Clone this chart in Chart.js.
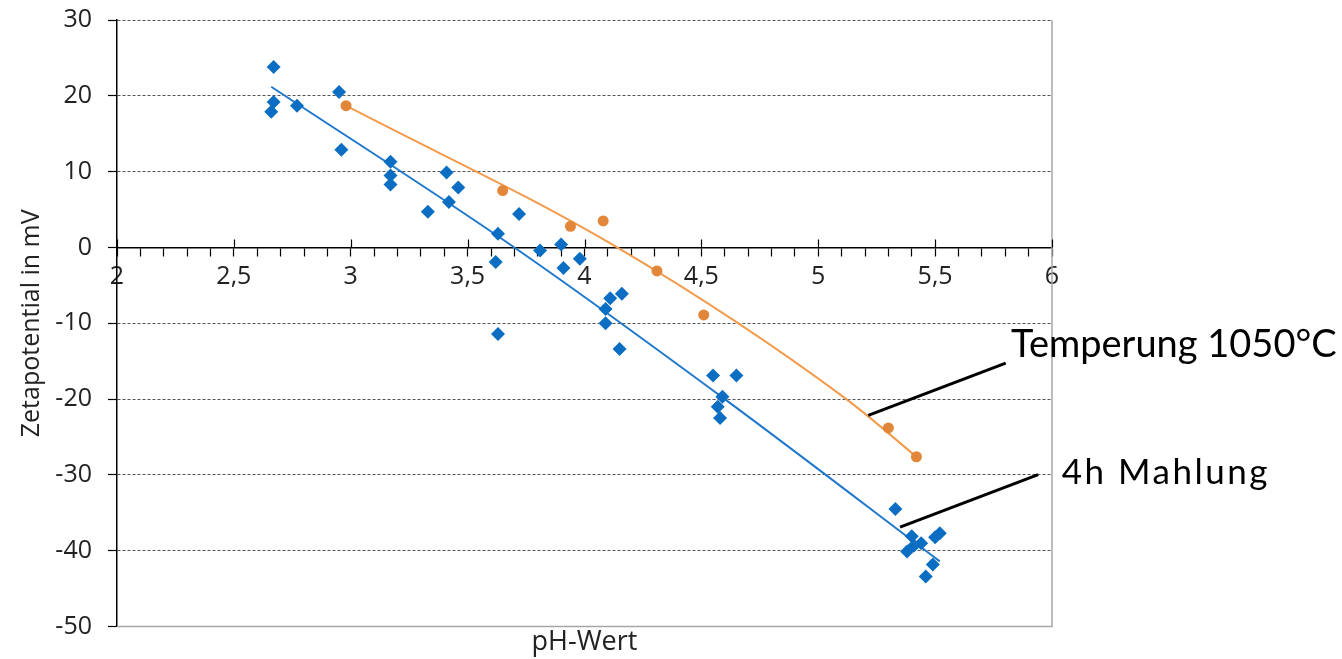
<!DOCTYPE html>
<html><head><meta charset="utf-8">
<script src="https://cdn.jsdelivr.net/npm/chart.js@4/dist/chart.umd.min.js"></script>
<style>html,body{margin:0;padding:0;background:#fff}canvas{display:block}</style>
</head><body>
<canvas id="c" width="1342" height="659"></canvas>
<script>
// ---- data ----
const phMahlung = [2.67,2.67,2.66,2.77,2.95,2.96,3.17,3.17,3.17,3.41,3.46,3.33,3.42,3.72,3.63,3.62,3.63,3.81,3.90,3.91,3.98,4.16,4.11,4.09,4.09,4.15,4.55,4.65,4.59,4.57,4.58,5.33,5.40,5.38,5.44,5.41,5.50,5.52,5.49,5.46];
const zetaMahlung = [23.8,19.2,17.9,18.7,20.5,12.9,11.3,9.5,8.3,9.9,7.9,4.7,6.0,4.4,1.8,-1.9,-11.4,-0.4,0.4,-2.7,-1.5,-6.1,-6.7,-8.1,-10.0,-13.4,-16.9,-16.9,-19.7,-21.0,-22.5,-34.5,-38.1,-40.1,-39.0,-39.3,-38.2,-37.7,-41.8,-43.4];
const phTemper = [2.98,3.65,3.94,4.08,4.31,4.51,5.30,5.42];
const zetaTemper = [18.7,7.5,2.8,3.5,-3.1,-8.9,-23.8,-27.6];
const phTrendMahlung = [2.66,3.70,4.60,5.52];
const zetaTrendMahlung = [21.2,0,-20,-41.4];
const phTrendTemper = [2.98,4.14,5.12,5.42];
const zetaTrendTemper = [18.7,0,-20,-27.6];
const xTickValues = [2,2.5,3,3.5,4,4.5,5,5.5,6];
const xTickLabels = ['2','2,5','3','3,5','4','4,5','5','5,5','6'];
const seriesNames = ['4h Mahlung','Temperung 1050°C'];
const xTitle = 'pH-Wert';
const yTitle = 'Zetapotential in mV';

const pts = (xs, ys) => xs.map((v, i) => ({x: v, y: ys[i]}));

const annotations = [
  {text: seriesNames[1], from: [5.214, -22.15], to: [5.802, -15.24], at: [5.825, -14.5], size: 38, spacing: 0},
  {text: seriesNames[0], from: [5.350, -36.89], to: [5.941, -29.97], at: [6.042, -31.25], size: 35, spacing: 2.5}
];

const decor = {
  id: 'decor',
  beforeDatasetsDraw(chart) {
    const {ctx, chartArea: a, scales: {x, y}} = chart;
    ctx.save();
    ctx.strokeStyle = '#a6a6a6'; ctx.lineWidth = 1.5;
    ctx.beginPath(); ctx.moveTo(a.left, a.bottom); ctx.lineTo(a.right, a.bottom); ctx.lineTo(a.right, a.top); ctx.stroke();
    ctx.strokeStyle = '#000'; ctx.lineWidth = 1.2;
    const y0 = y.getPixelForValue(0);
    xTickValues.forEach(v => {
      const px = Math.round(x.getPixelForValue(v)) + 0.5;
      ctx.beginPath(); ctx.moveTo(px, y0 - 8); ctx.lineTo(px, y0); ctx.stroke();
    });
    ctx.restore();
  },
  afterDraw(chart) {
    const {ctx, scales: {x, y}} = chart;
    ctx.save();
    annotations.forEach(an => {
      ctx.strokeStyle = '#000'; ctx.lineWidth = 3;
      ctx.beginPath();
      ctx.moveTo(x.getPixelForValue(an.from[0]), y.getPixelForValue(an.from[1]));
      ctx.lineTo(x.getPixelForValue(an.to[0]), y.getPixelForValue(an.to[1]));
      ctx.stroke();
      ctx.fillStyle = '#000';
      ctx.font = an.size + 'px Lato';
      ctx.letterSpacing = an.spacing + 'px';
      ctx.textAlign = 'left'; ctx.textBaseline = 'alphabetic';
      ctx.fillText(an.text, x.getPixelForValue(an.at[0]), y.getPixelForValue(an.at[1]));
    });
    ctx.restore();
  }
};

new Chart(document.getElementById('c'), {
  type: 'scatter',
  data: {
    datasets: [
      {label: seriesNames[0], data: pts(phMahlung, zetaMahlung), pointStyle: 'rectRot', pointRadius: 7,
       backgroundColor: '#0B6EC3', borderColor: '#0B6EC3', borderWidth: 0, order: 0},
      {label: seriesNames[1], data: pts(phTemper, zetaTemper), pointStyle: 'circle', pointRadius: 5.5,
       backgroundColor: '#E2873A', borderColor: '#E2873A', borderWidth: 0, order: 0},
      {type: 'line', label: 'Trend ' + seriesNames[0], data: pts(phTrendMahlung, zetaTrendMahlung), showLine: true,
       pointRadius: 0, borderColor: '#1F78CC', borderWidth: 2, cubicInterpolationMode: 'monotone', fill: false, order: 1},
      {type: 'line', label: 'Trend ' + seriesNames[1], data: pts(phTrendTemper, zetaTrendTemper), showLine: true,
       pointRadius: 0, borderColor: '#F29B4D', borderWidth: 2, cubicInterpolationMode: 'monotone', fill: false, order: 1}
    ]
  },
  options: {
    responsive: false, animation: false, devicePixelRatio: 1,
    layout: {padding: {left: 0, top: 20, right: 290, bottom: 0}},
    plugins: {
      legend: {display: false}, tooltip: {enabled: false},
      title: {display: true, text: xTitle, position: 'bottom', fullSize: false, color: '#222',
              font: {family: 'Open Sans', size: 27, weight: 'normal', lineHeight: 1.2}, padding: {top: 0, bottom: 0}}
    },
    scales: {
      x: {
        type: 'linear', position: {y: 0}, min: 2, max: 6,
        ticks: {stepSize: 0.1, autoSkip: false, maxRotation: 0, padding: 6, color: '#222',
                font: {family: 'Open Sans', size: 25},
                callback: v => { const k = Math.round(v * 10); if (k % 5) return ''; const i = xTickValues.findIndex(t => Math.abs(t - v) < 1e-6); return i >= 0 ? xTickLabels[i] : ''; }},
        grid: {drawOnChartArea: false, drawTicks: true, tickLength: 8, tickColor: '#000', tickWidth: 1.2},
        border: {display: true, color: '#000', width: 1.5}
      },
      y: {
        type: 'linear', position: 'left', min: -50, max: 30,
        afterFit: s => { s.width = 117; s.paddingTop = 0; s.paddingBottom = 0; },
        ticks: {stepSize: 10, padding: 16, color: '#222', font: {family: 'Open Sans', size: 25}},
        grid: {drawTicks: true, tickLength: 9, tickColor: '#000', tickWidth: 1.2, lineWidth: 1,
               color: c => (c.tick && (c.tick.value === -50 || c.tick.value === 0)) ? 'rgba(0,0,0,0)' : '#555'},
        border: {display: true, color: '#000', width: 1.5, dash: [3, 2]},
        title: {display: true, text: yTitle, color: '#222', font: {family: 'Open Sans', size: 25}, padding: {top: 17, bottom: 0}}
      }
    }
  },
  plugins: [decor]
});
</script>
</body></html>
